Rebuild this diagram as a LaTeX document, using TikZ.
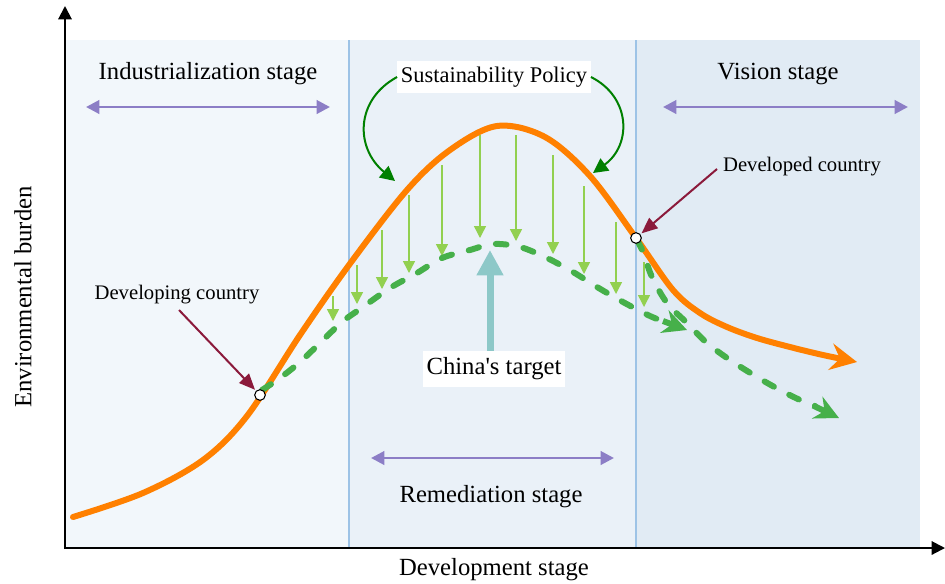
\documentclass[tikz,border=0pt]{standalone}
\usepackage{fontspec}
\setmainfont{Liberation Serif}
\usetikzlibrary{arrows.meta}
\definecolor{pA}{HTML}{F2F7FB}
\definecolor{pB}{HTML}{EAF1F8}
\definecolor{pC}{HTML}{E1EBF4}
\definecolor{divc}{HTML}{9DC3E6}
\definecolor{orng}{HTML}{FF8000}
\definecolor{dgreen}{HTML}{46B04A}
\definecolor{lgreen}{HTML}{92D050}
\definecolor{pgreen}{HTML}{008000}
\definecolor{maroonc}{HTML}{8B1A3B}
\definecolor{tealc}{HTML}{8DC8C8}
\definecolor{purp}{HTML}{8C7EC6}
\begin{document}
\begin{tikzpicture}[x=0.75pt,y=-0.75pt,
  big/.style={inner sep=0pt, font=\fontsize{18.5pt}{20pt}\selectfont},
  small/.style={inner sep=0pt, font=\fontsize{15.5pt}{17pt}\selectfont},
  whitebox/.style={fill=white, inner sep=0pt},
  divider/.style={divc, line width=1.1pt},
  axis/.style={black, line width=1.5pt, -{Triangle[length=10pt,width=10pt]}},
  stagearrow/.style={purp, line width=2.2pt, {Triangle[length=10pt,width=10pt]}-{Triangle[length=10pt,width=10pt]}},
  orangecurve/.style={orng, line width=4.5pt, line cap=round, -{Stealth[length=20pt,width=20pt,inset=7pt]}},
  gdash/.style={dgreen, line width=4.5pt, line cap=round, dash pattern=on 8pt off 13pt},
  gtip/.style={dgreen, line width=4.5pt, -{Stealth[length=18pt,width=18pt,inset=6pt]}},
  lgarrow/.style={lgreen, line width=1.1pt, -{Triangle[length=9pt,width=9pt]}},
  dot/.style={circle, draw=black, fill=white, line width=0.8pt, inner sep=0pt, minimum size=8pt},
  marr/.style={maroonc, line width=1.5pt, -{Triangle[length=12pt,width=10pt]}, shorten >=1pt},
  parr/.style={pgreen, line width=1.5pt, -{Triangle[length=11pt,width=11pt]}},
  tarr/.style={tealc, line width=5.25pt, -{Triangle[length=19pt,width=19pt]}}
]
\useasboundingbox (0,0) rectangle (945,583);
% panels
\fill[pA] (65,40) rectangle (349,548);
\fill[pB] (349,40) rectangle (636,548);
\fill[pC] (636,40) rectangle (920,548);
\draw[divider] (349,40) -- (349,548);
\draw[divider] (636,40) -- (636,548);
% axes
\coordinate (O) at (65,548);
\coordinate (ytop) at (65,6);
\coordinate (xend) at (945,548);
\draw[axis] (65,549) -- (ytop);
\draw[axis] (64,548) -- (xend);
% orange curve
\draw[orangecurve] plot[smooth, tension=0.55] coordinates {(73,517) (143,493) (203,460) (247,416) (300,335) (349,265) (407,190) (450,150) (497,126) (545,137) (590,176) (636,238) (673,290) (700,313) (727,327) (757,338) (790,347) (823,355) (857,362)};
% light green arrows
\foreach \x/\a/\b in {333/296/321, 357/265/304, 382/230/289, 409/195/273, 442/165/256, 480/135/238, 516/135/241, 553/155/254, 584/186/274, 616/222/294, 644/262/307}
  \draw[lgarrow] (\x,\a) -- (\x,\b);
% green dashed curves
\coordinate (g1end) at (687,330);
\coordinate (g2end) at (839,418);
\draw[gdash] plot[smooth, tension=0.55] coordinates {(262,390) (280,378) (300,362) (320,343) (342,322) (363,307) (390,288) (417,273) (442,258) (470,250) (493,244) (520,247) (547,258) (573,272) (597,287) (623,302) (650,316) (668,323)};
\draw[gtip] (663,321) -- (g1end);
\draw[gdash] plot[smooth, tension=0.55] coordinates {(637,240) (643,252) (652,277) (667,303) (687,323) (707,343) (730,360) (757,377) (780,390) (800,400) (815,406)};
\draw[gtip] (813,405.5) -- (g2end);
% points
\node[dot] (devA) at (260,395) {};
\node[dot] (devB) at (636,238) {};
% stage labels
\node[big] (ind) at (208,74) {Industrialization stage};
\node[big] (vis) at (778,74) {Vision stage};
\node[big] (rem) at (491,497) {Remediation stage};
\node[big] (devst) at (494,570) {Development stage};
\node[big, rotate=90] (env) at (23,297) {Environmental burden};
\coordinate (i1) at (86,107); \coordinate (i2) at (330,107);
\coordinate (v1) at (663,107); \coordinate (v2) at (908,107);
\coordinate (r1) at (371,458); \coordinate (r2) at (614,458);
\draw[stagearrow] (i1) -- (i2);
\draw[stagearrow] (v1) -- (v2);
\draw[stagearrow] (r1) -- (r2);
% sustainability policy
\node[whitebox, font=\fontsize{16.8pt}{18pt}\selectfont, minimum width=145pt, minimum height=23.5pt] (sp) at (494,77) {Sustainability Policy};
\coordinate (lp) at (395,181);
\coordinate (rp) at (593,173);
\draw[parr] (sp.west) .. controls (355,100) and (355,148) .. (lp);
\draw[parr] (sp.east) .. controls (631,97) and (632,145) .. (rp);
% china's target
\node[whitebox, font=\fontsize{18.5pt}{20pt}\selectfont, minimum width=107pt, minimum height=27pt] (ct) at (494,369) {China\textquotesingle s target};
\coordinate (tgt) at (490,250);
\draw[tarr] (ct.north -| tgt) -- (tgt);
% country labels
\node[small] (dcl) at (802,167) {Developed country};
\node[small] (dgl) at (177,295) {Developing country};
\coordinate (dclt) at (717,169);
\coordinate (dglt) at (179,310);
\draw[marr] (dclt) -- (devB);
\draw[marr] (dglt) -- (devA);
\end{tikzpicture}
\end{document}
